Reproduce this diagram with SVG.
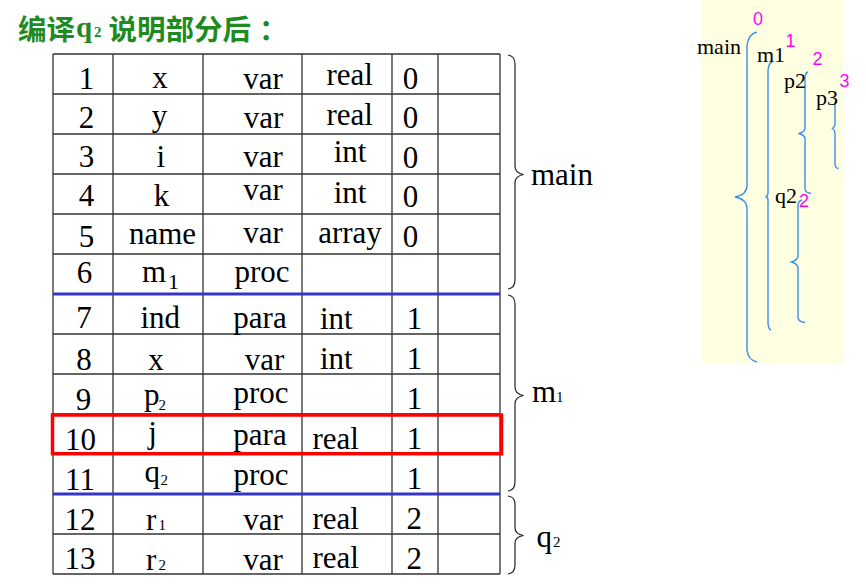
<svg xmlns="http://www.w3.org/2000/svg" width="866" height="587" viewBox="0 0 866 587">
<style>
.t{font-family:"Liberation Serif","Times New Roman",serif;font-size:31px;fill:#000}
.c{text-anchor:middle}
.s{font-size:15px}
.grid{stroke:#333;stroke-width:1.3;fill:none}
.blue{stroke:#3434c8;stroke-width:3;fill:none}
.brace{stroke:#222;stroke-width:1.2;fill:none}
.bb{stroke:#3d8ee8;stroke-width:1.4;fill:none}
.lbl{font-family:"Liberation Serif","Times New Roman",serif;font-size:22px;fill:#000}
.mg{font-family:"Liberation Sans",Arial,sans-serif;font-size:18px;fill:#ff00ff}
</style>
<rect width="866" height="587" fill="#fff"/>
<g id="title">
<text x="18" y="39.5" font-family="'Noto Sans CJK SC',sans-serif" font-weight="bold" font-size="28.5" fill="#1f8a1f">编译<tspan x="76" y="37" font-family="'Liberation Serif',serif" font-size="29">q</tspan><tspan x="94" y="37" font-family="'Liberation Serif',serif" font-size="15">2</tspan><tspan x="108.5" y="39.5">说明部分后</tspan><tspan x="259" y="39.5">：</tspan></text>
</g>
<g id="table">
<g id="grid">
<path class="grid" d="M53,54H500M53,94H500M53,134H500M53,174H500M53,214H500M53,254H500M53,334H500M53,374H500M53,414H500M53,454H500M53,534H500M53,574H500"/>
<path class="grid" d="M53,54V574M113,54V574M203,54V574M302,54V574M392,54V574M438,54V574M500,54V574"/>
<path class="blue" d="M53,294H500M53,494H500"/>
</g>
<g id="row1"><text class="t c" x="86.5" y="88.5">1</text><text class="t c" x="160" y="88">x</text><text class="t c" x="263" y="89">var</text><text class="t c" x="349.7" y="85">real</text><text class="t c" x="410.5" y="89">0</text></g>
<g id="row2"><text class="t c" x="86.5" y="128">2</text><text class="t c" x="159.5" y="126">y</text><text class="t c" x="263.5" y="128">var</text><text class="t c" x="349.7" y="125">real</text><text class="t c" x="410.5" y="128">0</text></g>
<g id="row3"><text class="t c" x="86.5" y="167">3</text><text class="t c" x="160.8" y="167">i</text><text class="t c" x="263" y="167">var</text><text class="t c" x="350" y="162">int</text><text class="t c" x="410.5" y="168">0</text></g>
<g id="row4"><text class="t c" x="86.5" y="206">4</text><text class="t c" x="161.5" y="206">k</text><text class="t c" x="263" y="200">var</text><text class="t c" x="350" y="203">int</text><text class="t c" x="410.5" y="207">0</text></g>
<g id="row5"><text class="t c" x="86.5" y="247">5</text><text class="t c" x="162.5" y="243.5">name</text><text class="t c" x="263" y="243">var</text><text class="t c" x="350" y="243">array</text><text class="t c" x="410.5" y="246.5">0</text></g>
<g id="row6"><text class="t c" x="84.5" y="283">6</text><text class="t" x="142" y="282">m<tspan x="168" y="289" font-size="22">1</tspan></text><text class="t c" x="262" y="282">proc</text></g>
<g id="row7"><text class="t c" x="84" y="328">7</text><text class="t c" x="160.3" y="328">ind</text><text class="t c" x="260" y="328">para</text><text class="t" x="320" y="329">int</text><text class="t c" x="414.5" y="329">1</text></g>
<g id="row8"><text class="t c" x="84" y="370">8</text><text class="t c" x="156" y="370">x</text><text class="t c" x="264.5" y="370">var</text><text class="t" x="320" y="369">int</text><text class="t c" x="414.5" y="369">1</text></g>
<g id="row9"><text class="t c" x="83.5" y="410">9</text><text class="t" x="144" y="405">p<tspan class="s" x="158.5" y="410">2</tspan></text><text class="t c" x="261" y="403">proc</text><text class="t c" x="414.5" y="409">1</text></g>
<g id="row10"><text class="t c" x="80.5" y="450">10</text><text class="t c" x="152.5" y="443">j</text><text class="t c" x="260" y="445">para</text><text class="t" x="312.5" y="449">real</text><text class="t c" x="414.5" y="449">1</text></g>
<g id="row11"><text class="t c" x="80" y="490">11</text><text class="t" x="144.5" y="482">q<tspan class="s" x="160.5" y="485">2</tspan></text><text class="t c" x="261" y="485">proc</text><text class="t c" x="414.5" y="489">1</text></g>
<g id="row12"><text class="t c" x="80" y="530">12</text><text class="t" x="146" y="530">r<tspan class="s" x="158.5" y="530">1</tspan></text><text class="t c" x="263" y="530">var</text><text class="t" x="312.5" y="529">real</text><text class="t c" x="414.3" y="529">2</text></g>
<g id="row13"><text class="t c" x="80" y="569">13</text><text class="t" x="146" y="570">r<tspan class="s" x="158.5" y="570">2</tspan></text><text class="t c" x="263" y="570">var</text><text class="t" x="312.5" y="568">real</text><text class="t c" x="414.3" y="569">2</text></g>
<rect id="highlight" x="52.5" y="415" width="449" height="38.7" fill="none" stroke="#ff0000" stroke-width="3.5"/>
</g>
<g id="connectors">
<path class="brace" d="M508,55Q515,56 515,64L515,166Q515,173 523.5,174.5Q515,176 515,183L515,280Q515,288 508,289"/>
<path class="brace" d="M508,295Q515,296 515,304L515,387Q515,394 523.5,395.5Q515,397 515,404L515,482Q515,490 508,491"/>
<path class="brace" d="M508,496Q515,497 515,504L515,528Q515,534 523.5,535.5Q515,537 515,543L515,565Q515,573 508,574"/>
</g>
<g id="labels">
<text class="t" x="531" y="185">main</text>
<text class="t" x="532" y="401.7">m<tspan class="s" x="556" y="401.7">1</tspan></text>
<text class="t" x="536.5" y="546.5">q<tspan class="s" x="553" y="546.7">2</tspan></text>
</g>
<g id="scope-panel">
<rect x="701" y="0" width="142" height="363" fill="#ffffe2"/>
<path class="bb" d="M757,32Q748,34 747,46L747,185Q747,195 735,197Q747,199 747,209L747,350Q748,360 757,362"/>
<path class="bb" d="M772,62Q768,64 768,72L768,193Q768,196 765.5,196.5Q768,197 768,200L768,322Q768,329 771,330"/>
<path class="bb" d="M808,72Q805,73 805,78L805,128Q805,132 798.5,133.5Q805,135 805,139L805,188Q805,193 811,193.5"/>
<path class="bb" d="M837,100Q835,101 835,104L835,124Q835,127 832.5,128.5Q835,130 835,133L835,164Q835,168 838.5,168.5"/>
<path class="bb" d="M802,200Q798,201 798,206L798,256Q798,260 791.5,262Q798,264 798,268L798,317Q798,322 805,322.5"/>
<text class="lbl" x="697" y="54" font-size="23">main</text>
<text class="lbl" x="757" y="62">m1</text>
<text class="lbl" x="784" y="88">p2</text>
<text class="lbl" x="816" y="105">p3</text>
<text class="lbl" x="775" y="203">q2</text>
<text class="mg" x="753" y="25">0</text>
<text class="mg" x="785.5" y="47">1</text>
<text class="mg" x="812.5" y="65">2</text>
<text class="mg" x="839.5" y="87">3</text>
<text class="mg" x="799" y="207">2</text>
</g>
</svg>
